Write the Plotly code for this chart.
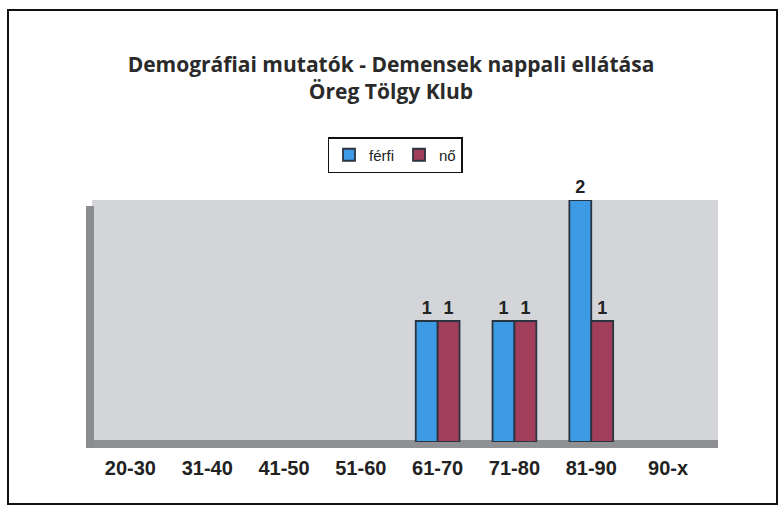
import plotly.graph_objects as go

categories = ["20-30", "31-40", "41-50", "51-60", "61-70", "71-80", "81-90", "90-x"]
ferfi = [None, None, None, None, 1, 1, 2, None]
no = [None, None, None, None, 1, 1, 1, None]

W, H = 782, 511
L, R, T, B = 92, 64, 200, 69
pw, ph = W - L - R, H - T - B

def px_x(p):
    return (p - L) / pw

def px_y(p):
    return 1 - (p - T) / ph

fig = go.Figure()
for name, vals, col in [("férfi", ferfi, "#3d9be6"), ("nő", no, "#a03e5c")]:
    fig.add_trace(go.Bar(name=name, x=categories, y=vals,
                         marker=dict(color=col, line=dict(color="#2a3340", width=1.8)),
                         text=vals, textposition="outside", cliponaxis=False,
                         texttemplate="<b>%{text}</b>",
                         textfont=dict(family="Liberation Sans, Arial", size=18, color="#222")))

shapes = [
    dict(type="rect", xref="paper", yref="paper", x0=0, x1=1, y0=px_y(448), y1=px_y(440),
         fillcolor="#8e9093", line=dict(width=0), layer="below"),
    dict(type="rect", xref="paper", yref="paper", x0=px_x(86), x1=px_x(94), y0=px_y(448), y1=px_y(206),
         fillcolor="#8a8c8f", line=dict(width=0), layer="below"),
    dict(type="rect", xref="paper", yref="paper", x0=px_x(8), x1=px_x(777), y0=px_y(504), y1=px_y(10),
         line=dict(color="#111", width=2), fillcolor="rgba(0,0,0,0)"),
]

fig.update_layout(
    width=W, height=H,
    margin=dict(l=L, r=R, t=T, b=B, autoexpand=False),
    paper_bgcolor="white",
    plot_bgcolor="#d3d5d8",
    barmode="group", bargap=0.43, bargroupgap=0.0,
    title=dict(text="<b>Demográfiai mutatók - Demensek nappali ellátása</b><br><b>Öreg Tölgy Klub</b>",
               x=0.5, xanchor="center", xref="container",
               y=1 - 72 / H, yanchor="top", yref="container",
               font=dict(family="Open Sans, Lato, sans-serif", size=21, color="#2a2a2a")),
    legend=dict(orientation="h", x=px_x(395), xanchor="center", y=px_y(137), yanchor="top",
                bordercolor="#111", borderwidth=1.5, bgcolor="white",
                font=dict(family="Liberation Sans, Arial", size=15, color="#222"),
                itemwidth=30, traceorder="normal"),
    xaxis=dict(range=[-0.5, 7.65], showgrid=False, zeroline=False, showline=False,
               tickfont=dict(family="Liberation Sans, Arial", size=20, color="#222"),
               ticks="", ticklabelstandoff=12,
               tickvals=categories, ticktext=["<b>%s</b>" % c for c in categories]),
    yaxis=dict(range=[0, 2], visible=False, showgrid=False, zeroline=False),
    shapes=shapes,
)
fig.write_html("out.html", config={"displayModeBar": False},
               post_script="document.body.style.margin='0';document.body.style.overflow='hidden';")
